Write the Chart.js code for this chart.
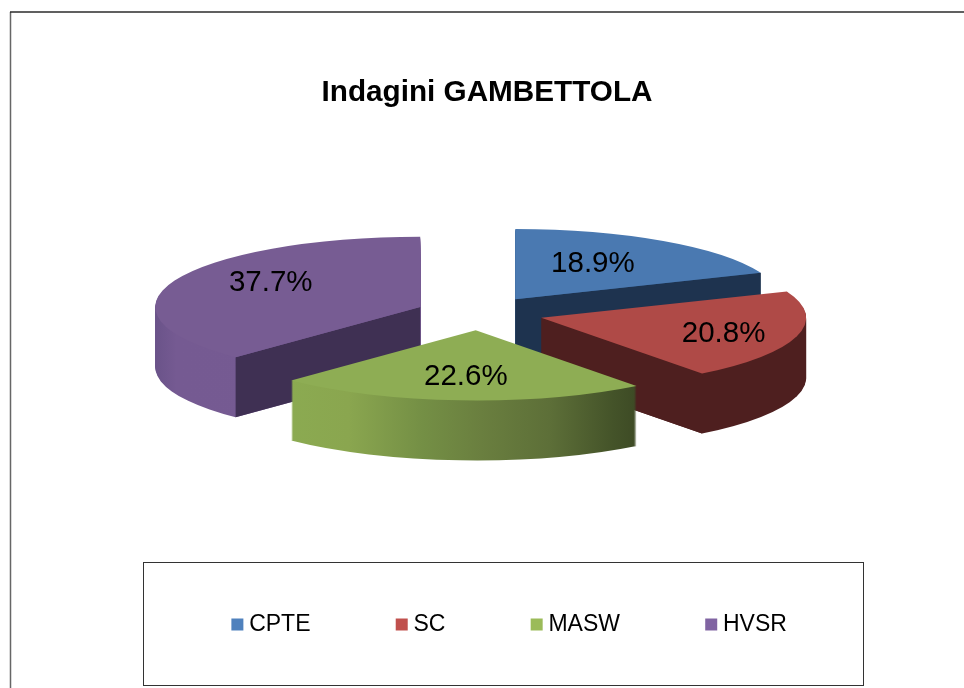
<!DOCTYPE html>
<html>
<head>
<meta charset="utf-8">
<title>Indagini GAMBETTOLA</title>
<script src="https://cdn.jsdelivr.net/npm/chart.js@4"></script>
<style>
  html, body { margin: 0; padding: 0; background: #fff; overflow: hidden; }
  canvas { display: block; }
</style>
</head>
<body>
<canvas id="pieChart" width="964" height="688"></canvas>
<script>
const categories = ["CPTE", "SC", "MASW", "HVSR"];
const counts = [10, 11, 12, 20];

const legendColors = ["#4f81bd", "#c0504d", "#9bbb59", "#8064a2"];
const topColors = ["#4a79b1", "#af4a47", "#8ead54", "#775c93"];
const wallColors = ["#1e334f", "#4e1f1f", "#8ead54", "#3f3053"];
// rim shading, t runs across the full pie width
const rimStops = [
  [[0, "#4a79b1"], [1, "#2a4a70"]],
  [[0, "#4e1f1f"], [1, "#4e1f1f"]],
  [[0.15, "#8baa51"], [0.26, "#8aa64f"], [0.4, "#748f45"], [0.51, "#6a7f3f"], [0.64, "#5d6f38"], [0.76, "#445329"], [0.81, "#3c4924"]],
  [[0, "#6a5389"], [0.04, "#755a92"], [1, "#775c93"]]
];
const drawOrder = [0, 3, 1, 2];

// where each percent label sits on its slice
const labelRadius = [0.605, 0.715, 0.63, 0.673];
const labelTurn = [-5, 0.5, 0, 11];
const labelDrop = 2;

const pieCenter = { x: 479.5, y: 313.3 };
const pieRadius = 265;
const squash = 0.265;
const depth = 60;
const explode = 64;
const legendFrame = { left: 143, top: 562, right: 863, bottom: 685 };
const legendTextY = 625;
const legendRightExtra = 18;

const fontFamily = "'Liberation Sans', Arial, sans-serif";
Chart.defaults.font.family = fontFamily;

function withFill(arc, color) {
  const saved = arc.options;
  const opts = Object.create(saved);
  opts.backgroundColor = color;
  arc.options = opts;
  return function () { arc.options = saved; };
}

const pie3d = {
  id: "pie3d",
  afterLayout(chart) {
    // legend text lines up inside the framed box, not the chart width
    const legend = chart.legend;
    legend.left = legendFrame.left;
    legend.right = legendFrame.right + legendRightExtra;
    legend.width = legend.right - legend.left;
    legend.top = legendTextY - 12 - legend.options.labels.padding;
  },
  beforeDraw(chart) {
    const c = chart.ctx;
    c.save();
    c.strokeStyle = "#666";
    c.lineWidth = 1.5;
    c.beginPath();
    c.moveTo(10.5, 688);
    c.lineTo(10.5, 12);
    c.stroke();
    c.strokeStyle = "#2b2b2b";
    c.beginPath();
    c.moveTo(10, 12);
    c.lineTo(964, 12);
    c.stroke();
    c.lineWidth = 1;
    c.strokeStyle = "#333";
    c.strokeRect(legendFrame.left + 0.5, legendFrame.top + 0.5,
      legendFrame.right - legendFrame.left, legendFrame.bottom - legendFrame.top);
    c.restore();
  },
  beforeDatasetsDraw(chart) {
    const c = chart.ctx;
    const arcs = chart.getDatasetMeta(0).data;
    const total = counts.reduce((a, b) => a + b, 0);

    const apexOf = (arc) => {
      const mid = (arc.startAngle + arc.endAngle) / 2;
      return {
        x: pieCenter.x + explode * Math.cos(mid),
        y: pieCenter.y + explode * Math.sin(mid) * squash
      };
    };

    drawOrder.forEach((i) => {
      const arc = arcs[i];
      const apex = apexOf(arc);

      const rim = c.createLinearGradient(arc.x - pieRadius, 0, arc.x + pieRadius, 0);
      rimStops[i].forEach((s) => rim.addColorStop(s[0], s[1]));

      // side of the slice: same arc stacked downwards
      const undo = withFill(arc, rim);
      for (let d = depth; d >= 1; d--) {
        c.save();
        c.translate(apex.x, apex.y + d);
        c.scale(1, squash);
        c.translate(-arc.x, -arc.y);
        arc.draw(c);
        c.restore();
      }
      undo();

      // cut faces turned towards the viewer
      const wall = (a) => {
        const px = apex.x + pieRadius * Math.cos(a);
        const py = apex.y + pieRadius * Math.sin(a) * squash;
        c.fillStyle = wallColors[i];
        c.beginPath();
        c.moveTo(apex.x, apex.y);
        c.lineTo(px, py);
        c.lineTo(px, py + depth);
        c.lineTo(apex.x, apex.y + depth);
        c.closePath();
        c.fill();
      };
      if (Math.cos(arc.startAngle) < -1e-6) wall(arc.startAngle);
      if (Math.cos(arc.endAngle) > 1e-6) wall(arc.endAngle);

      const undoTop = withFill(arc, topColors[i]);
      c.save();
      c.translate(apex.x, apex.y);
      c.scale(1, squash);
      c.translate(-arc.x, -arc.y);
      arc.draw(c);
      c.restore();
      undoTop();
    });

    c.save();
    c.fillStyle = "#000";
    c.font = "29.5px " + fontFamily;
    c.textAlign = "center";
    c.textBaseline = "middle";
    arcs.forEach((arc, i) => {
      const apex = apexOf(arc);
      const a = (arc.startAngle + arc.endAngle) / 2 + labelTurn[i] * Math.PI / 180;
      const r = pieRadius * labelRadius[i];
      const text = (counts[i] / total * 100).toFixed(1) + "%";
      c.fillText(text, apex.x + r * Math.cos(a), apex.y + r * Math.sin(a) * squash + labelDrop);
    });
    c.restore();
    return false;
  }
};

new Chart(document.getElementById("pieChart"), {
  type: "pie",
  data: {
    labels: categories,
    datasets: [{
      data: counts,
      backgroundColor: legendColors,
      borderWidth: 0
    }]
  },
  options: {
    responsive: false,
    animation: false,
    events: [],
    radius: pieRadius,
    layout: { padding: { left: 10, top: 12 } },
    plugins: {
      title: {
        display: true,
        text: "Indagini GAMBETTOLA",
        color: "#000",
        font: { size: 29.7, weight: "bold", family: fontFamily },
        padding: { top: 63, bottom: 20 }
      },
      legend: {
        position: "bottom",
        labels: {
          color: "#000",
          font: { size: 23, family: fontFamily },
          usePointStyle: true,
          pointStyle: "rect",
          boxWidth: 0.5,
          boxHeight: 12,
          padding: 91
        }
      },
      tooltip: { enabled: false }
    }
  },
  plugins: [pie3d]
});
</script>
</body>
</html>
